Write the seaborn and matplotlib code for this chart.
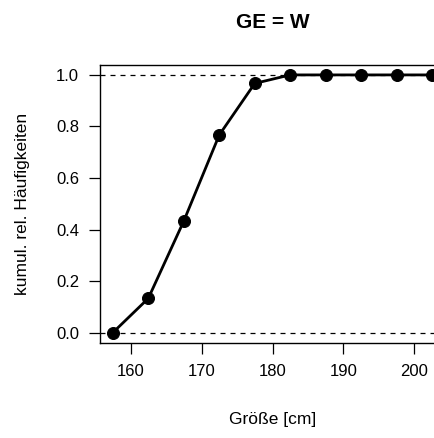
import numpy as np
import pandas as pd
import matplotlib
matplotlib.use("Agg")
import matplotlib.pyplot as plt
import seaborn as sns

# class midpoints (Größe) and cumulative relative frequencies
groesse = [157.5, 162.5, 167.5, 172.5, 177.5, 182.5, 187.5, 192.5, 197.5, 202.5]
kum_rel = [0.0, 0.133, 0.433, 0.767, 0.967, 1.0, 1.0, 1.0, 1.0, 1.0]
x_ticks = [160, 170, 180, 190, 200]
y_ticks = [0.0, 0.2, 0.4, 0.6, 0.8, 1.0]

sns.set_style("ticks")
plt.rcParams['font.family'] = ['Liberation Sans', 'DejaVu Sans']
plt.rcParams['text.color'] = 'black'
plt.rcParams['axes.labelcolor'] = 'black'
plt.rcParams['xtick.color'] = 'black'
plt.rcParams['ytick.color'] = 'black'

df = pd.DataFrame({'Groesse': groesse, 'kum': kum_rel})

fig = plt.figure(figsize=(4.35, 4.38), dpi=100)
# axes box runs past the right edge of the image, as in the reference
ax = fig.add_axes([100/435, 95/438, 345/435, 278.4/438])

ax.axhline(0, color='black', lw=0.9, ls=(0, (4, 4)), zorder=1)
ax.axhline(1, color='black', lw=0.9, ls=(0, (4, 4)), zorder=1)

sns.lineplot(data=df, x='Groesse', y='kum', ax=ax, color='black', lw=2.0,
             marker='o', markersize=8.6, markeredgecolor='black', zorder=3)

ax.set_xlim(155.7, 204.3)
ax.set_ylim(-0.04, 1.04)
ax.set_xticks(x_ticks)
ax.set_yticks(y_ticks)
ax.set_yticklabels(['{:.1f}'.format(v) for v in y_ticks])

for s in ax.spines.values():
    s.set_visible(True)
    s.set_linewidth(1.0)
    s.set_color('black')

ax.tick_params(axis='both', direction='out', length=8, width=0.9, color='black',
               labelsize=12, pad=7, labelcolor='black')

ax.set_xlabel('Größe [cm]', fontsize=12.5)
ax.set_ylabel('kumul. rel. Häufigkeiten', fontsize=12.5)
ax.xaxis.set_label_coords(0.5, -0.273)
ax.xaxis.label.set_va('center')
ax.yaxis.set_label_coords(-0.2246, 0.5)
ax.yaxis.label.set_va('center')

ax.text(0.5, 1.15, 'GE = W', transform=ax.transAxes, ha='center', va='center',
        fontsize=15, fontweight='bold')

fig.savefig('out.png', dpi=100)
